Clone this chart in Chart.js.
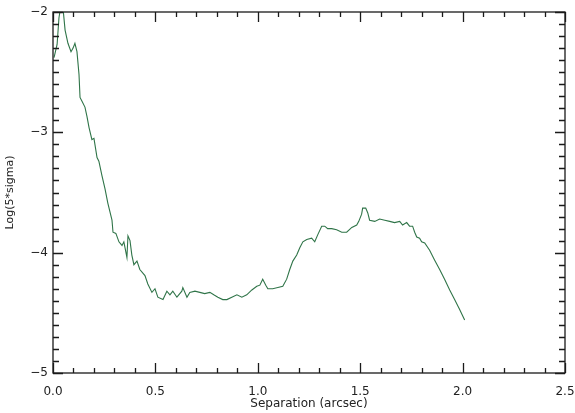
<!DOCTYPE html>
<html>
<head>
<meta charset="utf-8">
<script src="https://cdn.jsdelivr.net/npm/chart.js@4/dist/chart.umd.min.js"></script>
<style>
  html, body { margin: 0; padding: 0; background: #ffffff; }
  #wrap { width: 575px; height: 413px; }
</style>
</head>
<body>
<div id="wrap"><canvas id="c" width="575" height="413"></canvas></div>
<script>
// Contrast curve: separation (arcsec) vs log of the 5-sigma detection limit
const separation = [
  0.005, 0.020, 0.029, 0.039, 0.049, 0.059, 0.073, 0.088, 0.098, 0.107,
  0.117, 0.127, 0.132, 0.141, 0.156, 0.166, 0.176, 0.190, 0.200, 0.215,
  0.224, 0.239, 0.254, 0.268, 0.288, 0.293, 0.307, 0.322, 0.337, 0.346,
  0.361, 0.366, 0.376, 0.385, 0.395, 0.410, 0.424, 0.449, 0.463, 0.483,
  0.498, 0.512, 0.537, 0.556, 0.571, 0.585, 0.605, 0.629, 0.634, 0.654,
  0.668, 0.693, 0.717, 0.741, 0.766, 0.785, 0.805, 0.829, 0.849, 0.873,
  0.898, 0.922, 0.946, 0.971, 0.995, 1.010, 1.024, 1.039, 1.049, 1.073,
  1.098, 1.122, 1.141, 1.156, 1.171, 1.190, 1.205, 1.220, 1.239, 1.263,
  1.278, 1.293, 1.312, 1.327, 1.341, 1.361, 1.385, 1.410, 1.434, 1.459,
  1.483, 1.493, 1.507, 1.512, 1.527, 1.537, 1.546, 1.571, 1.595, 1.620,
  1.644, 1.668, 1.693, 1.707, 1.727, 1.741, 1.756, 1.766, 1.776, 1.790,
  1.800, 1.815, 1.839, 1.863, 1.888, 1.912, 1.937, 1.961, 1.985, 2.010
];
const logSigma = [
  -2.38, -2.27, -2.05, -1.94, -1.97, -2.15, -2.26, -2.33, -2.30, -2.26,
  -2.33, -2.52, -2.71, -2.74, -2.79, -2.87, -2.96, -3.06, -3.05, -3.21,
  -3.24, -3.36, -3.47, -3.59, -3.73, -3.83, -3.84, -3.91, -3.94, -3.91,
  -4.04, -3.86, -3.90, -4.02, -4.10, -4.07, -4.14, -4.19, -4.26, -4.33,
  -4.30, -4.37, -4.39, -4.32, -4.35, -4.32, -4.37, -4.32, -4.29, -4.37,
  -4.33, -4.32, -4.33, -4.34, -4.33, -4.35, -4.37, -4.39, -4.39, -4.37,
  -4.35, -4.37, -4.35, -4.31, -4.28, -4.27, -4.22, -4.27, -4.30, -4.30,
  -4.29, -4.28, -4.22, -4.14, -4.07, -4.02, -3.96, -3.91, -3.89, -3.88,
  -3.91, -3.85, -3.78, -3.78, -3.80, -3.80, -3.81, -3.83, -3.83, -3.79,
  -3.77, -3.74, -3.68, -3.63, -3.63, -3.67, -3.73, -3.74, -3.72, -3.73,
  -3.74, -3.75, -3.74, -3.77, -3.75, -3.78, -3.78, -3.83, -3.87, -3.88,
  -3.91, -3.92, -3.98, -4.06, -4.14, -4.22, -4.31, -4.39, -4.47, -4.56
];
const xTickValues = [0.0, 0.5, 1.0, 1.5, 2.0, 2.5];
const yTickValues = [-5, -4, -3, -2];

const FONT = 'DejaVu Sans, Liberation Sans, sans-serif';
const AXIS_COLOR = '#1a1a1a';

// Inward-facing major and minor ticks on all four sides plus the frame
const frameTicks = {
  id: 'frameTicks',
  afterDraw(chart) {
    const { ctx, chartArea: a, scales: { x, y } } = chart;
    ctx.save();
    ctx.strokeStyle = AXIS_COLOR;
    ctx.lineWidth = 1.3;
    ctx.strokeRect(a.left, a.top, a.right - a.left, a.bottom - a.top);
    ctx.beginPath();
    for (let i = 0; i <= 25; i++) {
      const px = Math.round(x.getPixelForValue(i / 10)) + 0.5;
      const len = i % 5 === 0 ? 10 : 5;
      ctx.moveTo(px, a.bottom); ctx.lineTo(px, a.bottom - len);
      ctx.moveTo(px, a.top); ctx.lineTo(px, a.top + len);
    }
    for (let i = -50; i <= -20; i++) {
      const py = Math.round(y.getPixelForValue(i / 10)) + 0.5;
      const len = i % 10 === 0 ? 10 : 6;
      ctx.moveTo(a.left, py); ctx.lineTo(a.left + len, py);
      ctx.moveTo(a.right, py); ctx.lineTo(a.right - len, py);
    }
    ctx.stroke();
    ctx.restore();
  }
};

new Chart(document.getElementById('c'), {
  type: 'scatter',
  data: {
    datasets: [{
      data: separation.map((s, i) => ({ x: s, y: logSigma[i] })),
      showLine: true,
      borderColor: '#2f7448',
      borderWidth: 1.1,
      pointRadius: 0,
      tension: 0
    }]
  },
  options: {
    responsive: false,
    animation: false,
    events: [],
    layout: { padding: { top: 12, right: 10, left: 0, bottom: 0 } },
    plugins: { legend: { display: false }, tooltip: { enabled: false } },
    scales: {
      x: {
        type: 'linear',
        min: 0, max: 2.5,
        afterBuildTicks(scale) { scale.ticks = xTickValues.map(v => ({ value: v })); },
        afterFit(scale) {
          scale.height = 40;
          scale.paddingLeft = 0;
          scale.paddingRight = 0;
        },
        grid: { display: false, drawTicks: false },
        border: { display: false },
        ticks: {
          padding: 12,
          color: '#222',
          font: { family: FONT, size: 12 },
          maxRotation: 0,
          callback: v => Number(v).toFixed(1)
        },
        title: {
          display: true,
          text: 'Separation (arcsec)',
          color: '#222',
          font: { family: FONT, size: 12 },
          padding: { top: 0, bottom: 2 }
        }
      },
      y: {
        type: 'linear',
        min: -5, max: -2,
        afterBuildTicks(scale) { scale.ticks = yTickValues.map(v => ({ value: v })); },
        afterFit(scale) {
          scale.width = 53;
          scale.paddingTop = 0;
          scale.paddingBottom = 0;
        },
        grid: { display: false, drawTicks: false },
        border: { display: false },
        ticks: {
          padding: 5,
          color: '#222',
          font: { family: FONT, size: 12 },
          callback: v => String(v).replace('-', '\u2212')
        },
        title: {
          display: true,
          text: 'Log(5*sigma)',
          color: '#222',
          font: { family: FONT, size: 11 },
          padding: { top: 4, bottom: 0 }
        }
      }
    }
  },
  plugins: [frameTicks]
});
</script>
</body>
</html>
